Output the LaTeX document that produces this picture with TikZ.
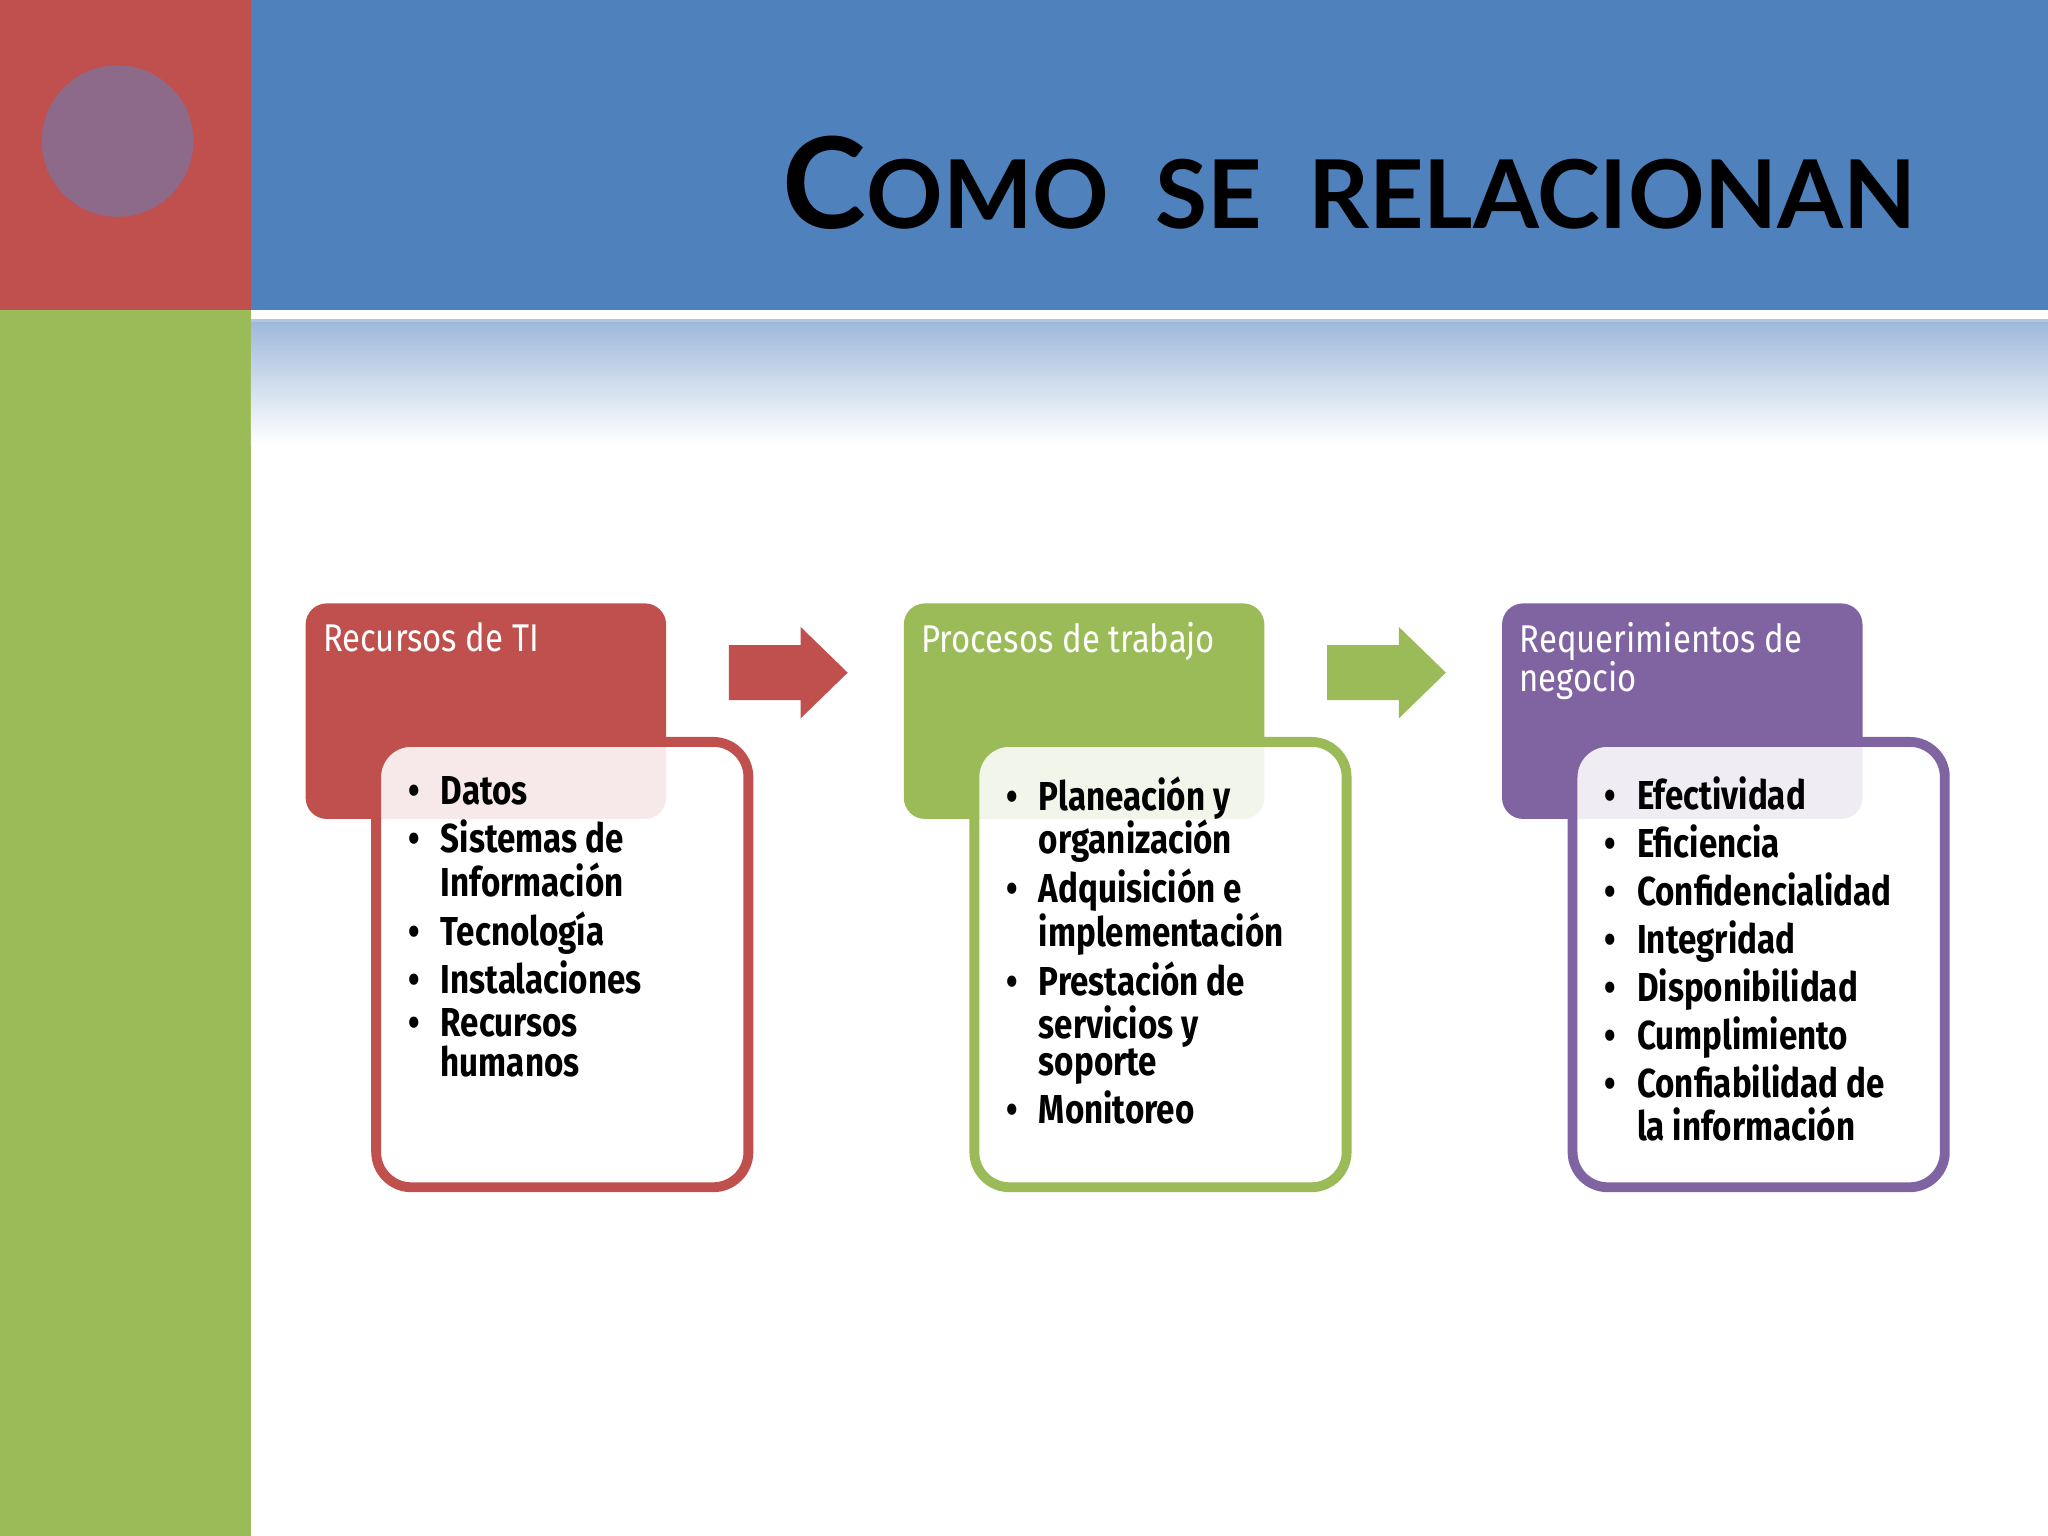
\documentclass[tikz,border=0pt]{standalone}
\usepackage{fontspec}
\setmainfont{Fira Sans}
\newfontfamily\titlefont{Lato}
\definecolor{cred}{HTML}{C0504D}
\definecolor{cgreen}{HTML}{9BBB59}
\definecolor{cblue}{HTML}{4F81BD}
\definecolor{cpurp}{HTML}{8064A2}
\definecolor{ccirc}{HTML}{8E6A8A}
\newcommand{\bl}{\textbullet}
\renewcommand{\arraystretch}{0.82}
\tikzset{
 topbox/.style={rounded corners=6pt,inner sep=0pt},
 lowbox/.style={fill=white,fill opacity=0.88,rounded corners=10pt,line width=2.8pt},
 hdr/.style={anchor=north west,text=white,font=\fontsize{11}{13}\selectfont\addfontfeature{FakeStretch=0.85},align=left,inner sep=0pt},
 lst/.style={anchor=north west,font=\fontsize{11.5}{11.5}\selectfont\bfseries\addfontfeature{FakeStretch=0.82},inner sep=0pt,align=left}
}
\begin{document}
\begin{tikzpicture}[x=0.01306cm,y=-0.01306cm]
\useasboundingbox (0,0) rectangle (1568,1176);
\fill[white] (0,0) rectangle (1568,1176);
\fill[cred] (0,0) rectangle (192,237);
\fill[cgreen] (0,237) rectangle (192,1176);
\fill[cblue] (192,0) rectangle (1568,237);
\fill[cblue!45] (192,244) rectangle (1568,247);
\shade[top color=cblue!55,bottom color=white] (192,247) rectangle (1568,340);
\fill[ccirc] (90,108) circle (58);
\node[anchor=base east,inner sep=0pt,font=\titlefont\bfseries] (title) at (1468,175)
 {\fontsize{36}{36}\selectfont C\fontsize{27}{27}\selectfont OMO\ \ SE\ \ RELACIONAN};
% columns
\foreach \dx/\c in {0/cred,458/cgreen,916/cpurp}{
 \begin{scope}[xshift=\dx*0.01306cm]
 \fill[\c,topbox] (234,462) rectangle (510,627);
 \draw[\c,lowbox] (288,568) rectangle (573,909);
 \end{scope}
}
\foreach \dx/\c in {0/cred,458/cgreen}{
 \begin{scope}[xshift=\dx*0.01306cm]
 \fill[\c] (558,494) -- (613,494) -- (613,480) -- (649,515) -- (613,550) -- (613,536) -- (558,536) -- cycle;
 \end{scope}
}
\node[hdr] (ha) at (247,476) {Recursos de TI};
\node[hdr] (hb) at (705,476) {Procesos de trabajo};
\node[hdr] (hc) at (1163,476) {Requerimientos de\\[-2pt]negocio};
\node[lst] (la) at (312,594) {\begin{tabular}{@{}l@{\hspace{6pt}}l@{}}
\bl & Datos\\[1.5pt]
\bl & Sistemas de\\ & Información\\[1.5pt]
\bl & Tecnología\\[1.5pt]
\bl & Instalaciones\\[1.5pt]
\bl & Recursos\\ & humanos\end{tabular}};
\node[lst] (lb) at (770,594) {\begin{tabular}{@{}l@{\hspace{6pt}}l@{}}
\bl & Planeación y\\ & organización\\[1.5pt]
\bl & Adquisición e\\ & implementación\\[1.5pt]
\bl & Prestación de\\ & servicios y\\ & soporte\\[1.5pt]
\bl & Monitoreo\end{tabular}};
\node[lst] (lc) at (1228,594) {\begin{tabular}{@{}l@{\hspace{6pt}}l@{}}
\bl & Efectividad\\[1.5pt]
\bl & Eficiencia\\[1.5pt]
\bl & Confidencialidad\\[1.5pt]
\bl & Integridad\\[1.5pt]
\bl & Disponibilidad\\[1.5pt]
\bl & Cumplimiento\\[1.5pt]
\bl & Confiabilidad de\\ & la información\end{tabular}};
\end{tikzpicture}
\end{document}
